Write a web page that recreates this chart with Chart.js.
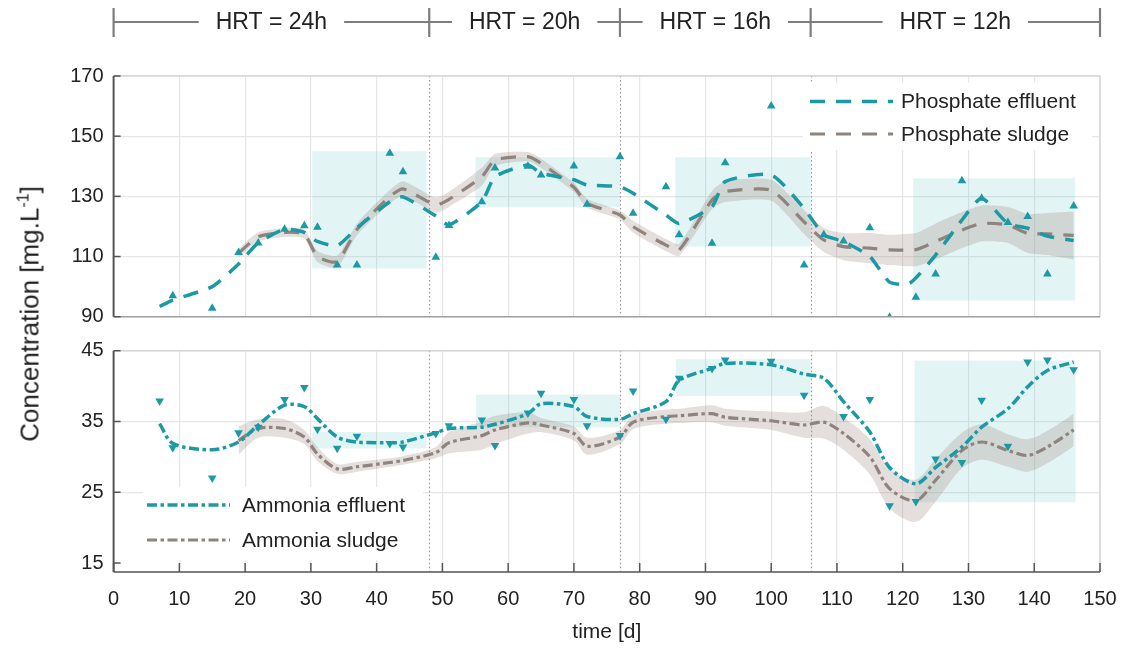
<!DOCTYPE html>
<html>
<head>
<meta charset="utf-8">
<script src="https://cdn.jsdelivr.net/npm/chart.js@4.4.1/dist/chart.umd.min.js"></script>
<style>
  html, body { margin: 0; padding: 0; background: #fff; }
  #wrap { position: relative; width: 1129px; height: 648px; overflow: hidden; background: #fff; }
  #wrap canvas { position: absolute; left: 0; top: 0; }
  #ytitle {
    position: absolute; left: 30px; top: 314px;
    transform: translate(-50%, -50%) rotate(-90deg);
    font: 26px "Liberation Sans", Arial, Helvetica, sans-serif;
    color: #222; white-space: nowrap;
  }
  #ytitle sup { font-size: 16px; vertical-align: 10px; line-height: 0; }
</style>
</head>
<body>
<div id="wrap">
  <canvas id="phosChart" width="1129" height="648"></canvas>
  <canvas id="ammChart" width="1129" height="648"></canvas>
  <div id="ytitle">Concentration [mg.L<sup>-1</sup>]</div>
</div>
<script>
// ---- Operating phases (hydraulic retention time) ----
const hrtLabels = ['HRT = 24h', 'HRT = 20h', 'HRT = 16h', 'HRT = 12h'];
const hrtBounds = [0, 48, 77, 106, 150];

// ---- Phosphate: effluent samples ----
const phosSampleDays = [9, 15, 19, 22, 26, 29, 31, 34, 37, 42, 44, 49, 51, 56, 58, 63, 65, 70, 72, 77, 79, 84, 86, 91, 93, 100, 105, 108, 111, 115, 118, 122, 125, 129, 132, 136, 139, 142, 146];
const phosSamples = [97.0, 92.8, 111.3, 114.5, 119.1, 120.2, 119.7, 107.2, 107.2, 144.3, 138.2, 109.8, 120.3, 128.2, 139.4, 140.0, 137.1, 140.1, 127.4, 143.2, 124.4, 133.2, 117.2, 114.4, 141.2, 160.0, 107.2, 117.2, 115.2, 119.6, 89.8, 96.5, 104.2, 135.2, 129.4, 121.3, 123.3, 104.2, 126.8];

// ---- Phosphate: effluent trend ----
const phosEffDays = [7, 9, 15, 19, 22, 26, 29, 31, 34, 37, 42, 44, 49, 51, 56, 58, 63, 65, 70, 72, 77, 79, 84, 86, 91, 93, 100, 105, 108, 111, 115, 118, 121, 125, 129, 132, 136, 139, 142, 146];
const phosEffluent = [93.4, 95.5, 100.0, 107.5, 114.6, 119.0, 118.0, 115.0, 113.6, 119.5, 128.2, 129.8, 123.5, 120.5, 128.2, 136.5, 140.4, 137.7, 135.5, 133.8, 133.2, 131.0, 123.8, 121.0, 126.6, 134.9, 137.1, 126.0, 117.2, 115.0, 110.0, 101.5, 101.0, 110.5, 122.1, 129.4, 121.0, 119.4, 116.8, 115.3];

// ---- Phosphate: sludge trend and its spread ----
const phosSludgeDays = [19, 22, 26, 29, 31, 34, 37, 42, 44, 49, 51, 56, 58, 63, 65, 70, 72, 77, 79, 84, 86, 91, 93, 100, 105, 108, 111, 115, 118, 122, 125, 129, 132, 136, 139, 142, 146];
const phosSludge = [111.1, 116.6, 118.0, 117.5, 110.0, 108.3, 119.0, 129.9, 132.5, 127.1, 129.0, 136.5, 142.1, 143.2, 141.0, 133.0, 127.7, 123.8, 119.9, 113.8, 112.2, 128.8, 131.6, 132.0, 121.5, 115.5, 113.3, 112.8, 112.2, 112.3, 115.0, 118.8, 121.0, 120.5, 117.7, 117.5, 117.0];
const phosSludgeSpread = [1.5, 1.5, 1.5, 1.5, 1.8, 2.0, 2.0, 2.2, 2.5, 2.5, 2.5, 3.0, 2.0, 1.5, 1.5, 1.5, 1.5, 1.5, 2.0, 2.0, 2.0, 3.0, 3.5, 3.5, 4.0, 4.0, 4.5, 5.0, 5.0, 5.5, 6.0, 6.0, 6.0, 6.0, 6.5, 7.0, 8.0];

// ---- Phosphate: per-phase effluent range ----
const phosBoxStart = [30.2, 55.0, 85.4, 121.6];
const phosBoxEnd = [47.6, 77.0, 106.0, 146.2];
const phosBoxLow = [106.0, 126.5, 113.3, 95.4];
const phosBoxHigh = [145.0, 143.0, 143.0, 136.0];

// ---- Ammonia: effluent samples ----
const ammSampleDays = [7, 9, 15, 19, 22, 26, 29, 31, 34, 37, 42, 44, 49, 51, 56, 58, 63, 65, 70, 72, 77, 79, 84, 86, 91, 93, 100, 105, 111, 115, 118, 122, 125, 129, 132, 136, 139, 142, 146];
const ammSamples = [37.9, 31.3, 27.0, 33.4, 34.2, 38.1, 39.8, 33.9, 31.2, 32.9, 31.9, 31.4, 33.3, 34.4, 35.2, 31.6, 36.2, 39.0, 38.1, 34.4, 33.0, 39.3, 35.3, 41.1, 42.5, 43.7, 43.5, 38.7, 35.7, 38.1, 23.1, 23.7, 29.7, 29.2, 38.0, 31.5, 43.4, 43.7, 42.3];

// ---- Ammonia: effluent trend ----
const ammEffDays = [7, 9, 15, 19, 22, 26, 29, 31, 34, 37, 42, 44, 49, 51, 56, 58, 63, 65, 70, 72, 77, 79, 84, 86, 91, 93, 100, 105, 108, 111, 115, 118, 122, 125, 129, 132, 136, 139, 142, 146];
const ammEffluent = [34.7, 31.9, 31.0, 32.1, 34.5, 37.3, 37.1, 35.4, 32.8, 32.1, 32.0, 32.1, 33.4, 34.0, 34.2, 34.6, 36.1, 37.5, 37.1, 35.7, 35.3, 36.1, 37.8, 40.8, 42.5, 43.2, 43.0, 41.7, 41.1, 37.8, 33.5, 28.5, 26.2, 28.5, 31.4, 34.2, 36.8, 39.9, 42.2, 43.4];

// ---- Ammonia: sludge trend and its spread ----
const ammSludgeDays = [19, 22, 26, 29, 31, 34, 37, 42, 44, 49, 51, 56, 58, 63, 65, 70, 72, 77, 79, 84, 86, 91, 93, 100, 105, 108, 111, 115, 118, 122, 125, 129, 132, 136, 139, 142, 146];
const ammSludge = [32.3, 34.0, 34.0, 32.8, 30.4, 28.3, 28.6, 29.2, 29.5, 30.6, 32.0, 33.0, 33.8, 34.8, 34.5, 33.3, 31.5, 32.8, 34.9, 35.7, 35.8, 36.1, 35.6, 35.1, 34.5, 34.9, 33.3, 30.0, 25.5, 23.8, 26.7, 30.9, 32.1, 30.9, 30.2, 31.4, 33.8];
const ammSludgeSpread = [2.0, 1.3, 1.3, 1.0, 1.0, 0.7, 0.7, 0.6, 0.6, 0.8, 1.5, 2.0, 2.0, 1.5, 1.0, 1.0, 1.2, 1.0, 1.0, 1.0, 1.0, 1.2, 1.2, 1.3, 1.8, 2.3, 2.3, 2.5, 2.8, 3.0, 3.0, 2.5, 2.5, 2.3, 2.3, 2.3, 2.3];

// ---- Ammonia: per-phase effluent range ----
const ammBoxStart = [30.2, 55.1, 85.5, 121.8];
const ammBoxEnd = [47.6, 77.0, 106.0, 146.3];
const ammBoxLow = [31.2, 34.2, 38.6, 23.6];
const ammBoxHigh = [33.5, 38.8, 43.8, 43.6];

// ---- Axis ticks ----
const xTicks = [0, 10, 20, 30, 40, 50, 60, 70, 80, 90, 100, 110, 120, 130, 140, 150];
const phosTicks = [90, 110, 130, 150, 170];
const ammTicks = [15, 25, 35, 45];

// ---- Styling ----
const FONT = '"Liberation Sans", Arial, Helvetica, sans-serif';
const TEAL = 'rgb(27,154,165)';
const GREY = 'rgb(143,131,125)';
const BAND = 'rgba(150,130,120,0.26)';
const BOX = 'rgba(100,195,200,0.18)';
const GRID = '#e6e6e6';
const TEXT = '#222';
const PHOS_DASH = [15, 11];
const AMM_DASH = [10, 3.5, 3.5, 3.5];

Chart.defaults.font.family = FONT;
Chart.defaults.color = TEXT;

const pts = (days, vals) => days.map((d, i) => ({ x: d, y: vals[i] }));
const offset = (days, vals, spread, sign) => days.map((d, i) => ({ x: d, y: vals[i] + sign * spread[i] }));

// Shaded per-phase rectangles and dotted phase boundaries, drawn under the curves
function boxesPlugin(starts, ends, lows, highs) {
  return {
    id: 'phaseBoxes',
    beforeDatasetsDraw(chart) {
      const { ctx, scales: { x, y } } = chart;
      ctx.save();
      ctx.fillStyle = BOX;
      starts.forEach((s, i) => {
        const x0 = x.getPixelForValue(s), x1 = x.getPixelForValue(ends[i]);
        const y0 = y.getPixelForValue(highs[i]), y1 = y.getPixelForValue(lows[i]);
        ctx.fillRect(x0, y0, x1 - x0, y1 - y0);
      });
      const { top, bottom } = chart.chartArea;
      ctx.strokeStyle = '#9a9a9a';
      ctx.lineWidth = 1.2;
      ctx.setLineDash([1.5, 2.5]);
      hrtBounds.slice(1, -1).forEach(b => {
        const px = Math.round(x.getPixelForValue(b)) + 0.5;
        ctx.beginPath(); ctx.moveTo(px, top); ctx.lineTo(px, bottom); ctx.stroke();
      });
      ctx.restore();
    }
  };
}

// Axes box with inward ticks
function framePlugin(withXAxis) {
  return {
    id: 'frame',
    afterDatasetsDraw(chart) {
      const { ctx, chartArea: { left, right, top, bottom }, scales: { x, y } } = chart;
      ctx.save();
      ctx.lineWidth = 1.5;
      ctx.strokeStyle = '#d6d6d6';
      ctx.beginPath(); ctx.moveTo(left, top); ctx.lineTo(right, top); ctx.lineTo(right, bottom); ctx.stroke();
      ctx.strokeStyle = withXAxis ? '#555' : '#a0a0a0';
      ctx.beginPath(); ctx.moveTo(left, bottom); ctx.lineTo(right, bottom); ctx.stroke();
      ctx.strokeStyle = '#555';
      ctx.lineWidth = 2;
      ctx.beginPath(); ctx.moveTo(left, top); ctx.lineTo(left, bottom); ctx.stroke();
      ctx.lineWidth = 1.5;
      y.ticks.forEach(t => {
        const py = y.getPixelForValue(t.value);
        ctx.beginPath(); ctx.moveTo(left, py); ctx.lineTo(left + 7, py); ctx.stroke();
      });
      if (withXAxis) {
        x.ticks.forEach(t => {
          const px = x.getPixelForValue(t.value);
          ctx.beginPath(); ctx.moveTo(px, bottom); ctx.lineTo(px, bottom - 9); ctx.stroke();
        });
      }
      ctx.restore();
    }
  };
}

// Legend drawn inside the plot area on a white panel
function legendPlugin(cfg) {
  return {
    id: 'innerLegend',
    afterDatasetsDraw(chart) {
      const { ctx } = chart;
      ctx.save();
      ctx.fillStyle = '#fff';
      ctx.fillRect(cfg.box[0], cfg.box[1], cfg.box[2] - cfg.box[0], cfg.box[3] - cfg.box[1]);
      ctx.font = '21px ' + FONT;
      ctx.textBaseline = 'middle';
      ctx.textAlign = 'left';
      cfg.items.forEach((it, i) => {
        const yy = cfg.rows[i];
        ctx.strokeStyle = it.color;
        ctx.lineWidth = it.width;
        ctx.setLineDash(it.dash);
        ctx.beginPath(); ctx.moveTo(cfg.line[0], yy); ctx.lineTo(cfg.line[1], yy); ctx.stroke();
        ctx.setLineDash([]);
        ctx.fillStyle = TEXT;
        ctx.fillText(it.label, cfg.textX, yy + 1);
      });
      ctx.restore();
    }
  };
}

// HRT phase bar above the top panel
const hrtBarPlugin = {
  id: 'hrtBar',
  afterDraw(chart) {
    const { ctx, scales: { x } } = chart;
    const yMid = 22;
    ctx.save();
    ctx.strokeStyle = '#7d7d7d';
    ctx.lineWidth = 2.2;
    ctx.font = '23px ' + FONT;
    ctx.fillStyle = TEXT;
    ctx.textAlign = 'center';
    ctx.textBaseline = 'middle';
    hrtBounds.forEach(b => {
      const px = x.getPixelForValue(b);
      ctx.beginPath(); ctx.moveTo(px, yMid - 14); ctx.lineTo(px, yMid + 15); ctx.stroke();
    });
    hrtLabels.forEach((lab, i) => {
      const b0 = hrtBounds[i], b1 = hrtBounds[i + 1];
      const x0 = x.getPixelForValue(b0), x1 = x.getPixelForValue(b1);
      const cx = x.getPixelForValue((b0 + b1) / 2);
      const half = ctx.measureText(lab).width / 2 + 17;
      ctx.beginPath();
      ctx.moveTo(x0, yMid); ctx.lineTo(cx - half, yMid);
      ctx.moveTo(cx + half, yMid); ctx.lineTo(x1, yMid);
      ctx.stroke();
      ctx.fillText(lab, cx, yMid + 1);
    });
    ctx.restore();
  }
};

function xScale(showLabels) {
  return {
    type: 'linear', min: 0, max: 150,
    afterBuildTicks: s => { s.ticks = xTicks.map(v => ({ value: v })); },
    afterFit: s => { s.height = showLabels ? 76 : 0; s.paddingLeft = 0; s.paddingRight = 0; },
    grid: { color: GRID, lineWidth: 1.2, drawTicks: false },
    border: { display: false },
    ticks: { display: showLabels, padding: 15, font: { size: 20 }, color: TEXT, maxRotation: 0, autoSkip: false },
    title: { display: showLabels, text: 'time [d]', font: { size: 21 }, color: TEXT, padding: { top: 0, bottom: 3 } }
  };
}

function yScale(min, max, ticks, hiddenGrid) {
  return {
    type: 'linear', min: min, max: max,
    afterBuildTicks: s => { s.ticks = ticks.map(v => ({ value: v })); },
    afterFit: s => { s.width = 113.6; s.paddingTop = 0; s.paddingBottom = 0; },
    grid: {
      color: c => (c.tick && c.tick.value === hiddenGrid) ? 'rgba(0,0,0,0)' : GRID,
      lineWidth: 1.2, drawTicks: false
    },
    border: { display: false },
    ticks: { padding: 10, font: { size: 20 }, color: TEXT }
  };
}

const common = {
  responsive: false,
  animation: false,
  devicePixelRatio: 1,
  plugins: { legend: { display: false }, tooltip: { enabled: false } },
  elements: { point: { radius: 0 } }
};

// ---- Upper panel: phosphate ----
new Chart(document.getElementById('phosChart'), {
  type: 'line',
  data: {
    datasets: [
      { data: pts(phosSampleDays, phosSamples), showLine: false, pointStyle: 'triangle', pointRadius: 5,
        pointBackgroundColor: TEAL, pointBorderWidth: 0, clip: 0 },
      { data: pts(phosEffDays, phosEffluent), borderColor: TEAL, borderWidth: 3.5, borderDash: PHOS_DASH,
        pointRadius: 0, tension: 0.2, fill: false },
      { data: pts(phosSludgeDays, phosSludge), borderColor: GREY, borderWidth: 3.2, borderDash: PHOS_DASH,
        pointRadius: 0, tension: 0.2, fill: false },
      { data: offset(phosSludgeDays, phosSludge, phosSludgeSpread, 1), borderWidth: 0, pointRadius: 0,
        tension: 0.2, fill: '+1', backgroundColor: BAND },
      { data: offset(phosSludgeDays, phosSludge, phosSludgeSpread, -1), borderWidth: 0, pointRadius: 0,
        tension: 0.2, fill: false }
    ]
  },
  options: Object.assign({}, common, {
    layout: { padding: { top: 76, right: 29, bottom: 331.3, left: 0 } },
    scales: { x: xScale(false), y: yScale(90, 170, phosTicks, null) }
  }),
  plugins: [
    boxesPlugin(phosBoxStart, phosBoxEnd, phosBoxLow, phosBoxHigh),
    framePlugin(false),
    legendPlugin({
      box: [803, 83, 1092, 150], line: [810, 893], rows: [101.5, 134], textX: 901,
      items: [
        { label: 'Phosphate effluent', color: TEAL, width: 3.5, dash: PHOS_DASH },
        { label: 'Phosphate sludge', color: GREY, width: 3.2, dash: PHOS_DASH }
      ]
    }),
    hrtBarPlugin
  ]
});

// ---- Lower panel: ammonia ----
new Chart(document.getElementById('ammChart'), {
  type: 'line',
  data: {
    datasets: [
      { data: pts(ammSampleDays, ammSamples), showLine: false, pointStyle: 'triangle', pointRotation: 180,
        pointRadius: 5, pointBackgroundColor: TEAL, pointBorderWidth: 0, clip: 0 },
      { data: pts(ammEffDays, ammEffluent), borderColor: TEAL, borderWidth: 3.5, borderDash: AMM_DASH,
        pointRadius: 0, tension: 0.3, fill: false },
      { data: pts(ammSludgeDays, ammSludge), borderColor: GREY, borderWidth: 3.2, borderDash: AMM_DASH,
        pointRadius: 0, tension: 0.3, fill: false },
      { data: offset(ammSludgeDays, ammSludge, ammSludgeSpread, 1), borderWidth: 0, pointRadius: 0,
        tension: 0.3, fill: '+1', backgroundColor: BAND },
      { data: offset(ammSludgeDays, ammSludge, ammSludgeSpread, -1), borderWidth: 0, pointRadius: 0,
        tension: 0.3, fill: false }
    ]
  },
  options: Object.assign({}, common, {
    layout: { padding: { top: 350.7, right: 29, bottom: 0, left: 0 } },
    scales: { x: xScale(true), y: yScale(13.73, 45, ammTicks, 15) }
  }),
  plugins: [
    boxesPlugin(ammBoxStart, ammBoxEnd, ammBoxLow, ammBoxHigh),
    framePlugin(true),
    legendPlugin({
      box: [143, 487, 423, 560], line: [147, 230], rows: [505, 540], textX: 242,
      items: [
        { label: 'Ammonia effluent', color: TEAL, width: 3.5, dash: AMM_DASH },
        { label: 'Ammonia sludge', color: GREY, width: 3.2, dash: AMM_DASH }
      ]
    })
  ]
});
</script>
</body>
</html>
